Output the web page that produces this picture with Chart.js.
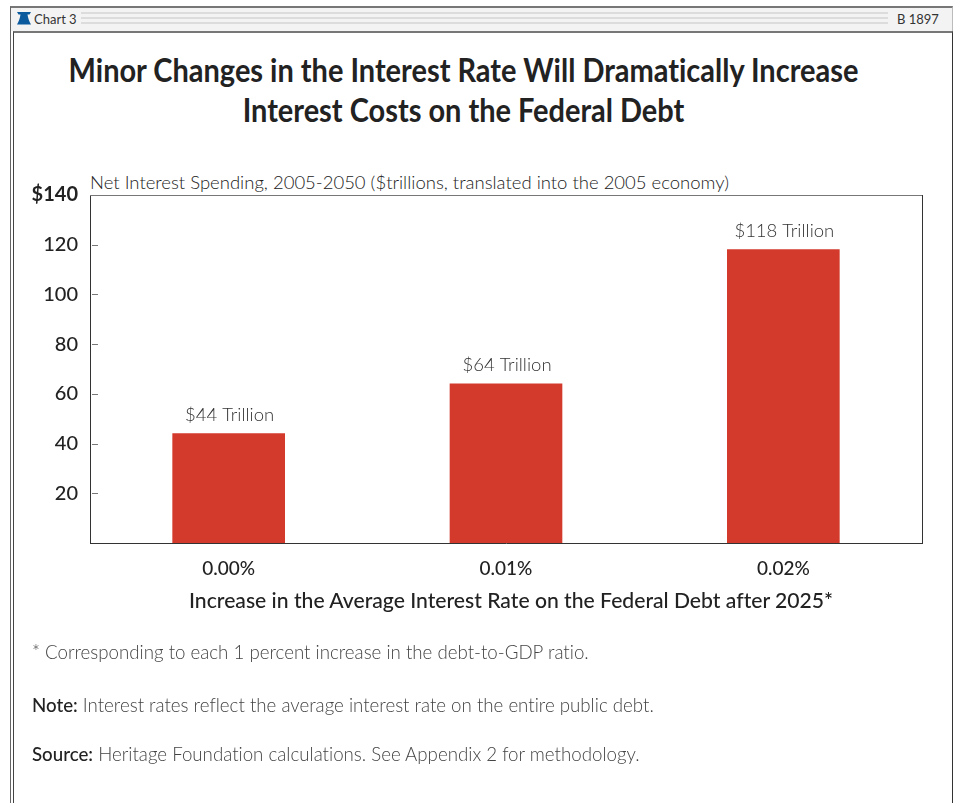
<!DOCTYPE html>
<html>
<head>
<meta charset="utf-8">
<title>Chart 3</title>
<script src="https://cdn.jsdelivr.net/npm/chart.js@4"></script>
<style>
  html, body { margin: 0; padding: 0; background: #fff; }
  body { width: 955px; height: 803px; position: relative; overflow: hidden; font-family: Lato, sans-serif; color: #333; font-variant-ligatures: none; }
  #myChart { position: absolute; left: 0; top: 0; }
  .frame { position: absolute; left: 10px; top: 6px; width: 943px; height: 797px; box-sizing: border-box; border-left: 1px solid #666; border-top: 2px solid #777; border-right: 1px solid #bbb; }
  .inner { position: absolute; left: 13px; top: 31px; width: 940px; height: 772px; box-sizing: border-box; border-left: 1px solid #444; border-top: 2px solid #777; border-right: 1px solid #333; }
  .bar { position: absolute; left: 11px; top: 8px; width: 941px; height: 23px; background: #f3f3f3; }
  .stripes { position: absolute; top: 12px; height: 13px; background: repeating-linear-gradient(#dcdcdc 0 2px, #f3f3f3 2px 5px); }
  .head { position: absolute; font-size: 13px; top: 11px; color: #333; }
  .bell { position: absolute; left: 17px; top: 12px; }
  h1 { position: absolute; margin: 0; left: 0; width: 927px; top: 50px; text-align: center; font-size: 32px; line-height: 40px; font-weight: 700; color: #222; transform: scaleX(0.905); }
  .sub { position: absolute; left: 90px; top: 171px; font-size: 18.5px; font-weight: 300; color: #222; white-space: nowrap; }
  .xtitle { position: absolute; left: 189px; top: 587px; font-size: 21.15px; font-weight: 500; color: #222; white-space: nowrap; }
  .foot { position: absolute; left: 32px; font-size: 18.7px; font-weight: 300; color: #444; white-space: nowrap; }
  .foot b { font-weight: 500; color: #222; }
</style>
</head>
<body>
<div class="frame"></div>
<div class="bar"></div>
<div class="inner"></div>
<svg class="bell" width="14" height="13" viewBox="0 0 14 13">
  <path d="M0 0H14L12.5 2.5H10.5C11 6 12 9 14 12.5H0C2 9 3 6 3.5 2.5H1.5Z" fill="#0b5a9e"/>
</svg>
<div class="head" style="left:34px">Chart 3</div>
<div class="stripes" style="left:81px;width:807px"></div>
<div class="head" style="left:897px">B 1897</div>
<h1>Minor Changes in the Interest Rate Will Dramatically Increase<br>Interest Costs on the Federal Debt</h1>
<div class="sub">Net Interest Spending, 2005-2050 ($trillions, translated into the 2005 economy)</div>
<canvas id="myChart" width="955" height="803"></canvas>
<div class="xtitle">Increase in the Average Interest Rate on the Federal Debt after 2025*</div>
<div class="foot" style="top:641px">* Corresponding to each 1 percent increase in the debt-to-GDP ratio.</div>
<div class="foot" style="top:694px"><b>Note:</b> Interest rates reflect the average interest rate on the entire public debt.</div>
<div class="foot" style="top:743px"><b>Source:</b> Heritage Foundation calculations. See Appendix 2 for methodology.</div>
<script>
const rates = ["0.00%", "0.01%", "0.02%"];
const interest = [44, 64, 118];
const yTicks = [20, 40, 60, 80, 100, 120, 140];

// short dashes just inside the left axis, top and right border, value labels above the bars
const extras = {
    id: "extras",
    afterDatasetsDraw(chart) {
        const c = chart.ctx, a = chart.chartArea, y = chart.scales.y;
        c.save();
        c.strokeStyle = "#777";
        c.lineWidth = 1;
        yTicks.slice(0, -1).forEach((t) => {
            const py = Math.round(y.getPixelForValue(t)) + 0.5;
            c.beginPath(); c.moveTo(a.left + 2, py); c.lineTo(a.left + 8, py); c.stroke();
        });
        c.beginPath(); c.moveTo(a.left, a.top + 0.5); c.lineTo(a.right, a.top + 0.5); c.stroke();
        c.strokeStyle = "#333";
        c.beginPath(); c.moveTo(a.right + 0.5, a.top); c.lineTo(a.right + 0.5, a.bottom); c.stroke();
        c.font = "300 18.5px Lato";
        c.fillStyle = "#333";
        c.textAlign = "center";
        c.textBaseline = "alphabetic";
        chart.getDatasetMeta(0).data.forEach((bar, i) => {
            c.fillText("$" + interest[i] + " Trillion", bar.x + 1, bar.y - 13);
        });
        c.restore();
    }
};

new Chart(document.getElementById("myChart"), {
    type: "bar",
    data: {
        labels: rates,
        datasets: [{
            data: interest,
            backgroundColor: "#d33a2c",
            barThickness: 112
        }]
    },
    options: {
        responsive: false,
        animation: false,
        layout: { padding: { top: 195, right: 33, bottom: 188, left: 0 } },
        plugins: { legend: { display: false }, tooltip: { enabled: false } },
        scales: {
            x: {
                afterFit(scale) { scale.height = 72; },
                grid: { display: false },
                border: { color: "#333", width: 1 },
                ticks: { color: "#222", font: { family: "Lato", size: 19, weight: "500" }, padding: 6 },
            },
            y: {
                min: 0,
                max: 140,
                afterFit(scale) { scale.width = 90; scale.paddingTop = 0; },
                afterBuildTicks(scale) { scale.ticks = yTicks.map((v) => ({ value: v })); },
                grid: { display: false },
                border: { color: "#333", width: 1 },
                ticks: {
                    color: "#222",
                    font: (ctx) => ({ family: "Lato", size: 20, weight: ctx.tick && ctx.tick.value === 140 ? "700" : "500" }),
                    padding: 4,
                    callback: (v) => (v === 140 ? "$" + v : v)
                }
            }
        }
    },
    plugins: [extras]
});
</script>
</body>
</html>
